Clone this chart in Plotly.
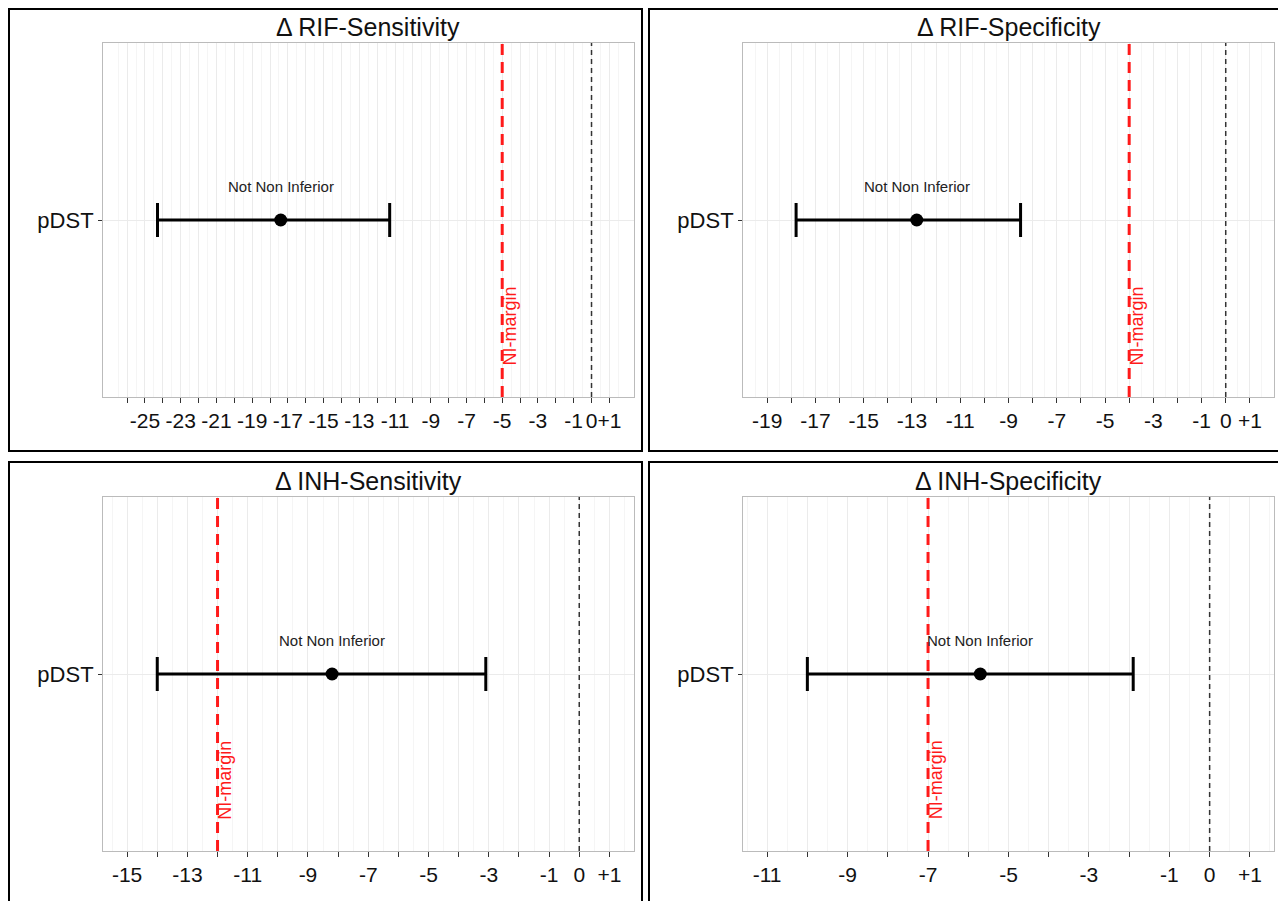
import plotly.graph_objects as go

# ---- data ----
titles = ["Δ RIF-Sensitivity", "Δ RIF-Specificity", "Δ INH-Sensitivity", "Δ INH-Specificity"]
category = ["pDST"]
estimate = [-17.4, -12.8, -8.2, -5.7]
ci_lower = [-24.3, -17.8, -14.0, -10.0]
ci_upper = [-11.3, -8.5, -3.1, -1.9]
ni_margin = [-5, -4, -12, -7]
axis_min = [-26, -19, -15, -11]
axis_max = [1, 1, 1, 1]
verdict = ["Not Non Inferior", "Not Non Inferior", "Not Non Inferior", "Not Non Inferior"]
ni_label = "NI-margin"

# page body has an 8px margin; figure is drawn inside it
OFF = 8
W, H = 1286 - OFF, 901 - OFF
FONT = "Liberation Sans, Arial, Helvetica, sans-serif"

# plot-area geometry (page pixels)
x_dom_px = [(103, 633.5), (743, 1274), (103, 633.5), (743, 1274)]
y_dom_px = [(43, 397), (43, 397), (497, 851), (497, 851)]
frames_px = [(9, 9, 642, 451), (649, 9, 1280, 451), (9, 462, 642, 960), (649, 462, 1280, 960)]


def px_x(v):
    return (v - OFF) / W


def px_y(v):
    return 1 - (v - OFF) / H


def tick_label(n):
    if n == 0:
        return "0"
    if n % 2 == 0:
        return ""
    return ("+" if n > 0 else "") + str(n)


fig = go.Figure()
layout = dict(
    width=W, height=H,
    margin=dict(l=0, r=0, t=0, b=0),
    paper_bgcolor="white", plot_bgcolor="white",
    showlegend=False,
    font=dict(family=FONT, color="#1a1a1a"),
    shapes=[], annotations=[],
)

for i in range(4):
    n = i + 1
    xs = "" if n == 1 else str(n)
    xname, yname = "x" + xs, "y" + xs
    lo, hi = axis_min[i], axis_max[i]
    pad = 0.05 * (hi - lo)
    ints = list(range(lo, hi + 1))
    halves = [k + 0.5 for k in range(lo - 2, hi + 2)]

    fig.add_trace(go.Scatter(
        x=[estimate[i]], y=category, xaxis=xname, yaxis=yname,
        mode="markers",
        marker=dict(size=13, color="black"),
        error_x=dict(type="data", symmetric=False,
                     array=[ci_upper[i] - estimate[i]],
                     arrayminus=[estimate[i] - ci_lower[i]],
                     color="black", thickness=3, width=17),
        hoverinfo="skip",
    ))

    layout["xaxis" + xs] = dict(
        domain=[px_x(x_dom_px[i][0]), px_x(x_dom_px[i][1])],
        anchor=yname,
        range=[lo - pad, hi + pad],
        tickmode="array", tickvals=ints, ticktext=[tick_label(k) for k in ints],
        tickangle=0,
        ticks="outside", ticklen=5, tickwidth=1, tickcolor="#333333",
        tickfont=dict(size=21, color="#111111", family=FONT),
        showgrid=True, gridcolor="#EBEBEB", gridwidth=1,
        minor=dict(tickmode="array", tickvals=halves, showgrid=True,
                   gridcolor="#F5F5F5", gridwidth=1, ticks=""),
        showline=True, linecolor="#BBBBBB", linewidth=1, mirror=True,
        zeroline=False, fixedrange=True,
    )
    layout["yaxis" + xs] = dict(
        domain=[px_y(y_dom_px[i][1]), px_y(y_dom_px[i][0])],
        anchor=xname,
        type="category", range=[-0.6, 0.6],
        ticks="outside", ticklen=4, tickwidth=1, tickcolor="#333333",
        tickfont=dict(size=22, color="#111111", family=FONT),
        showgrid=True, gridcolor="#EBEBEB", gridwidth=1,
        showline=True, linecolor="#BBBBBB", linewidth=1, mirror=True,
        zeroline=False, fixedrange=True,
    )

    # zero reference line
    layout["shapes"].append(dict(
        type="line", xref=xname, yref=yname + " domain",
        x0=0, x1=0, y0=0, y1=1,
        line=dict(color="#333333", width=1.5, dash="5px,4px"), layer="above",
    ))
    # NI margin line
    layout["shapes"].append(dict(
        type="line", xref=xname, yref=yname + " domain",
        x0=ni_margin[i], x1=ni_margin[i], y0=0, y1=1,
        line=dict(color="#FF1A1A", width=3, dash="11px,7px"), layer="above",
    ))
    # panel frame
    fx0, fy0, fx1, fy1 = frames_px[i]
    layout["shapes"].append(dict(
        type="rect", xref="paper", yref="paper",
        x0=px_x(fx0), x1=px_x(fx1), y0=px_y(fy1), y1=px_y(fy0),
        line=dict(color="black", width=2), fillcolor="rgba(0,0,0,0)",
    ))

    # title
    layout["annotations"].append(dict(
        text=titles[i], xref="paper", yref="paper",
        x=px_x((x_dom_px[i][0] + x_dom_px[i][1]) / 2),
        y=px_y(y_dom_px[i][0] - 16),
        xanchor="center", yanchor="middle", showarrow=False,
        font=dict(size=25, color="#111111", family=FONT),
    ))
    # verdict label
    layout["annotations"].append(dict(
        text=verdict[i], xref=xname, yref=yname,
        x=estimate[i], y=category.index("pDST"), yshift=34,
        xanchor="center", yanchor="middle", showarrow=False,
        font=dict(size=15, color="#222222", family=FONT),
    ))
    # NI margin label
    layout["annotations"].append(dict(
        text=ni_label, xref=xname, yref=yname + " domain",
        x=ni_margin[i], y=0.2, xshift=8, textangle=-90,
        xanchor="center", yanchor="middle", showarrow=False,
        font=dict(size=18, color="#FF1A1A", family=FONT),
    ))

fig.update_layout(**layout)
fig.write_html("out.html")
